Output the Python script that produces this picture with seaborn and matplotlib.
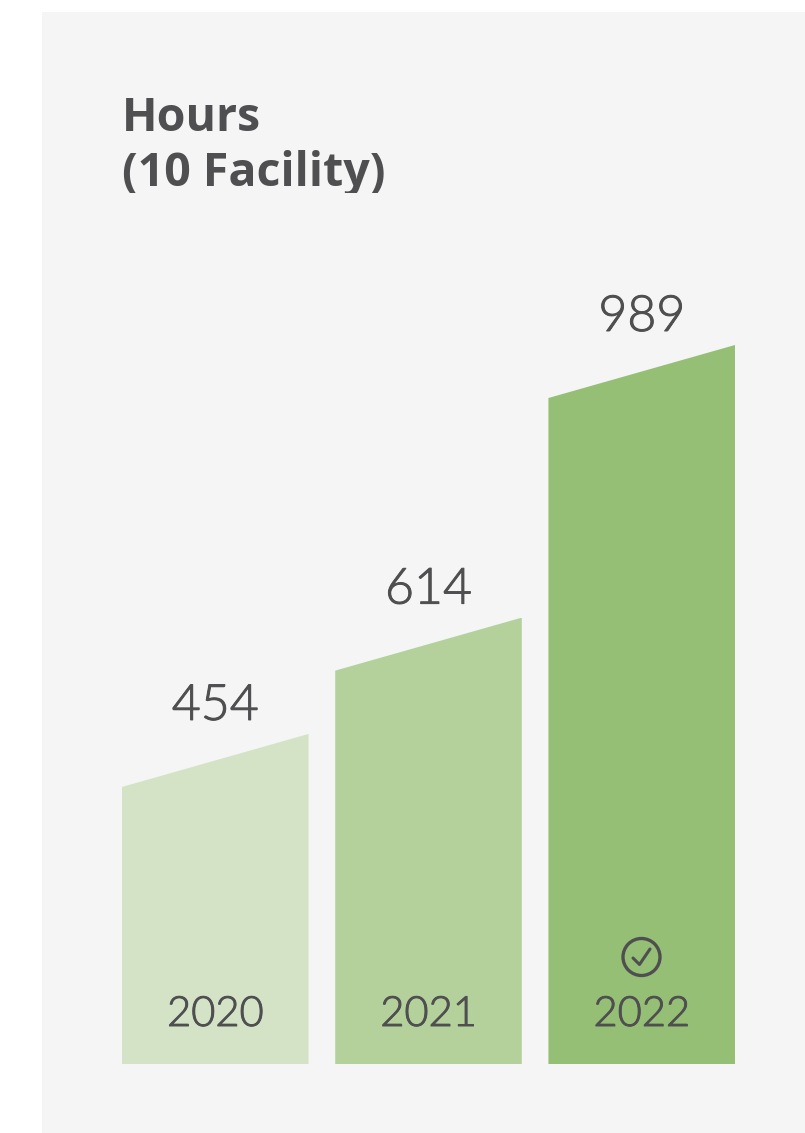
import matplotlib
matplotlib.use("Agg")
import matplotlib.pyplot as plt
import matplotlib.patheffects as pe
import seaborn as sns
import pandas as pd
from matplotlib.patches import Rectangle, Polygon
from matplotlib.transforms import Affine2D

years = ["2020", "2021", "2022"]
hours = [454, 614, 989]
bar_colors = ["#d4e3c6", "#b4d19c", "#96bf76"]
title_lines = ["Hours", "(10 Facility)"]

W, H = 805, 1133
INK = "#4f4f51"
SLANT = 53  # px drop of the left top corner

sns.set_theme(style="white")
plt.rcParams["font.family"] = ["Lato", "DejaVu Sans"]

fig = plt.figure(figsize=(W / 100, H / 100), dpi=100, facecolor="white")
px = Affine2D().scale(1, -1).translate(0, H)  # top-left pixel coordinates

fig.patches.append(Rectangle((42, 12), W - 42, H - 12, transform=px,
                             facecolor="#f5f5f5", edgecolor="none", zorder=-5))

ax = fig.add_axes([122 / W, (H - 1064) / H, (735 - 122) / W, (1064 - 345) / H])
df = pd.DataFrame({"year": years, "hours": hours})
sns.barplot(data=df, x="year", y="hours", hue="year", palette=bar_colors,
            order=years, hue_order=years, legend=False, width=0.875,
            saturation=1, linewidth=0, edgecolor="none", ax=ax)
ax.set_xlim(-0.4375, 2.4375)
ax.set_ylim(0, max(hours))
ax.patch.set_alpha(0)
ax.axis("off")
fig.canvas.draw()

thicken = [pe.withStroke(linewidth=0.7, foreground=INK)]

# cut each bar's top into a slope, and label it
for bar, year, value in zip(ax.patches, years, hours):
    x0, x1 = bar.get_x(), bar.get_x() + bar.get_width()
    (dx0, _), (dx1, dtop) = ax.transData.transform([(x0, 0), (x1, value)])
    base = ax.transData.transform((x0, 0))[1]
    clip = Polygon([(dx0, base), (dx0, dtop - SLANT), (dx1, dtop), (dx1, base)],
                   transform=None)
    bar.set_clip_path(clip)
    cx = bar.get_x() + bar.get_width() / 2
    ax.annotate(str(value), (cx, value), xytext=(0, 5), textcoords="offset pixels",
                ha="center", va="bottom", fontsize=36, fontweight=300,
                color=INK, annotation_clip=False, path_effects=thicken)
    ax.annotate(year, (cx, 0), xytext=(0, 31), textcoords="offset pixels",
                ha="center", va="bottom", fontsize=30, fontweight=300,
                color=INK, annotation_clip=False, path_effects=thicken)

# check icon
fig.add_artist(plt.Circle((641.5, 957), 18.5, transform=px, fill=False,
                          edgecolor=INK, linewidth=2.4))
fig.add_artist(plt.Line2D([633, 639.5, 650], [958, 964.5, 949], transform=px,
                          color=INK, linewidth=2.2, solid_capstyle="round",
                          solid_joinstyle="round"))

# title, cut off at the bottom as in the original
clip_rect = Rectangle((0, 0), W, 193, transform=px)
for line, y in zip(title_lines, [131, 186]):
    t = fig.text(122, y, line, transform=px, ha="left", va="baseline",
                 fontsize=33.5, fontweight="bold", family=["Open Sans", "DejaVu Sans"], color=INK)
    t.set_clip_path(clip_rect)

fig.savefig("out.png", dpi=100, facecolor="white")
